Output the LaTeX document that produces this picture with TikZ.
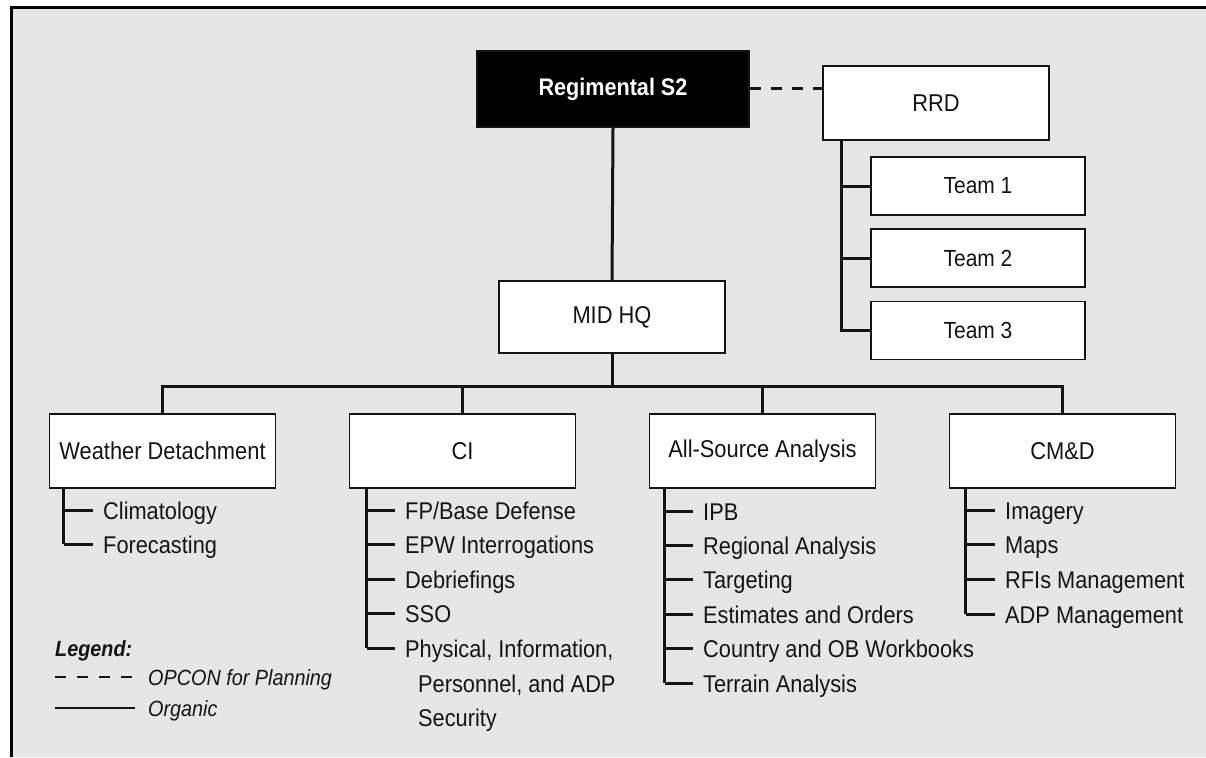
\documentclass[tikz,border=0pt]{standalone}
\usepackage{fontspec}
\setmainfont{Liberation Sans}[FakeStretch=0.9]
\definecolor{bg}{HTML}{E6E6E6}
\definecolor{ink}{HTML}{141414}
\begin{document}
\begin{tikzpicture}[x=1pt,y=-1pt,
  box/.style={draw=ink, line width=1.8pt, fill=white, text=ink, minimum width=226pt,
    minimum height=74pt, inner sep=0pt, font=\fontsize{24.3}{28}\selectfont},
  teambox/.style={box, minimum width=214pt, minimum height=58pt, font=\fontsize{23.3}{27}\selectfont},
  link/.style={line width=3pt, draw=ink, line join=miter},
  opcon/.style={link, dash pattern=on 11pt off 10pt},
  item/.style={anchor=base west, inner sep=0pt, text=ink, font=\fontsize{24.2}{28}\selectfont},
  legtext/.style={anchor=base west, inner sep=0pt, text=ink, font=\fontsize{22}{26}\selectfont\itshape}]
\useasboundingbox (0,0) rectangle (1206,757);
\fill[bg] (11.5,8) rectangle (1206,757);
\draw[line width=3pt, black] (11.5,757) -- (11.5,8) -- (1206,8);

% top level
\node[box, fill=black, text=white, minimum width=272pt, minimum height=76pt,
  font=\fontsize{24}{28}\selectfont\bfseries] (s2) at (613,89) {Regimental S2};
\node[box] (rrd) at (936,103) {RRD};
\node[teambox] (t1) at (978,186) {Team 1};
\node[teambox] (t2) at (978,258) {Team 2};
\node[teambox] (t3) at (978,330.5) {Team 3};
\node[box, minimum height=72pt] (mid) at (612,317) {MID HQ};

% second level
\node[box] (wd) at (162.5,451) {Weather Detachment};
\node[box] (ci) at (462.5,451) {CI};
\node[box] (as) at (762.5,451) {All-Source Analysis};
\node[box] (cm) at (1062.5,451) {CM\&D};

% connectors
\draw[opcon] (s2.east) -- (s2.east -| rrd.west);
\draw[link] (s2.south) -- (mid.north);
\coordinate (rrdspine) at ([xshift=19pt]rrd.south west);
\draw[link] (rrdspine) |- (t3.west);
\draw[link] (rrdspine |- t1.west) -- (t1.west);
\draw[link] (rrdspine |- t2.west) -- (t2.west);
\coordinate (bus) at (612,386.5);
\draw[link] (mid.south) -- (bus);
\draw[link] (wd.north) -- (wd.north |- bus) -- (cm.north |- bus) -- (cm.north);
\draw[link] (ci.north) -- (ci.north |- bus);
\draw[link] (as.north) -- (as.north |- bus);

% Weather list
\coordinate (wdsp) at ([xshift=15pt]wd.south west);
\foreach \t [count=\i] in {Climatology, Forecasting}{
  \coordinate (wdk\i) at (93, 510.5+33.5*\i-33.5);
  \draw[link] (wdsp |- wdk\i) -- (wdk\i);
  \node[item] (wdi\i) at ([xshift=10pt, yshift=-9pt]wdk\i) {\t};
}
\draw[link] (wdsp) -- (wdsp |- wdk2);

% CI list
\coordinate (cisp) at ([xshift=18pt]ci.south west);
\foreach \t [count=\i] in {FP/Base Defense, EPW Interrogations, Debriefings, SSO, {Physical, Information,}}{
  \coordinate (cik\i) at (395, 510+34.5*\i-34.5);
  \draw[link] (cisp |- cik\i) -- (cik\i);
  \node[item] (cii\i) at ([xshift=10pt, yshift=-9pt]cik\i) {\t};
}
\draw[link] (cisp) -- (cisp |- cik5);
\node[item] (cii6) at ([xshift=23pt, yshift=-44pt]cik5) {Personnel, and ADP};
\node[item] (cii7) at ([xshift=23pt, yshift=-78.5pt]cik5) {Security};

% All-Source list
\coordinate (assp) at ([xshift=16pt]as.south west);
\foreach \t [count=\i] in {IPB, Regional Analysis, Targeting, Estimates and Orders, Country and OB Workbooks, Terrain Analysis}{
  \coordinate (ask\i) at (693, 511+34.4*\i-34.4);
  \draw[link] (assp |- ask\i) -- (ask\i);
  \node[item] (asi\i) at ([xshift=10pt, yshift=-9pt]ask\i) {\t};
}
\draw[link] (assp) -- (assp |- ask6);

% CM&D list
\coordinate (cmsp) at ([xshift=17pt]cm.south west);
\foreach \t [count=\i] in {Imagery, Maps, RFIs Management, ADP Management}{
  \coordinate (cmk\i) at (995, 510+34.7*\i-34.7);
  \draw[link] (cmsp |- cmk\i) -- (cmk\i);
  \node[item] (cmi\i) at ([xshift=10pt, yshift=-9pt]cmk\i) {\t};
}
\draw[link] (cmsp) -- (cmsp |- cmk4);

% legend
\node[anchor=base west, inner sep=0pt, text=ink, font=\fontsize{22}{26}\selectfont\bfseries\itshape] (leg) at (55,656) {Legend:};
\coordinate (la1) at (55,677);
\coordinate (la2) at (132,677);
\coordinate (lb1) at (55,708);
\coordinate (lb2) at (135,708);
\draw[link, line width=2.6pt, dash pattern=on 11pt off 11pt] (la1) -- (la2);
\draw[link, line width=2.6pt] (lb1) -- (lb2);
\node[legtext] (lega) at (148,685) {OPCON for Planning};
\node[legtext] (legb) at (148,716) {Organic};
\end{tikzpicture}
\end{document}
